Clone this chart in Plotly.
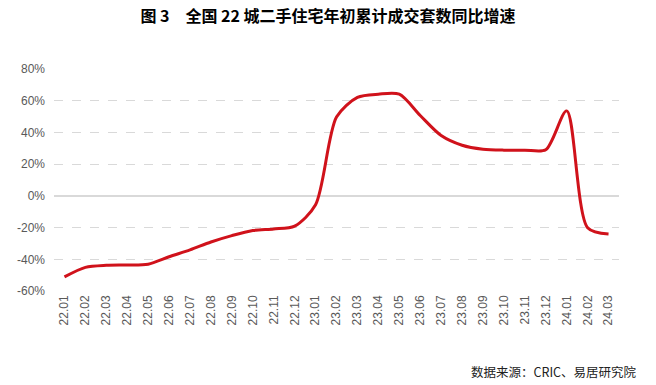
import plotly.graph_objects as go

categories = ["22.01","22.02","22.03","22.04","22.05","22.06","22.07","22.08","22.09",
              "22.10","22.11","22.12","23.01","23.02","23.03","23.04","23.05","23.06",
              "23.07","23.08","23.09","23.10","23.11","23.12","24.01","24.02","24.03"]
growth = [-51.0, -45.0, -43.7, -43.5, -43.0, -38.3, -34.0, -29.0, -25.0,
          -21.8, -20.8, -19.0, -5.6, 49.6, 62.0, 64.0, 64.0, 50.6,
          38.0, 31.9, 29.4, 28.8, 28.8, 29.0, 53.5, -20.0, -24.0]
y_ticks = [-60, -40, -20, 0, 20, 40, 60, 80]
y_tick_labels = [f"{v}%" for v in y_ticks]

fig = go.Figure()
fig.add_trace(go.Scatter(
    x=list(range(len(categories))), y=growth, mode="lines",
    line=dict(color="#D0121B", width=3, shape="spline", smoothing=0.8),
    hoverinfo="skip", showlegend=False,
))

fig.update_layout(
    width=656, height=385,
    margin=dict(l=54, r=37, t=68, b=93),
    paper_bgcolor="white", plot_bgcolor="white",
    title=dict(text="<b>图 3　全国 22 城二手住宅年初累计成交套数同比增速</b>",
               x=0.5, xanchor="center", y=0.958, yanchor="middle",
               font=dict(family="Noto Sans CJK SC", size=16, color="#000000")),
    xaxis=dict(
        tickmode="array", tickvals=list(range(len(categories))), ticktext=categories,
        range=[-0.5, len(categories) - 0.5], tickangle=-90,
        showgrid=False, zeroline=False, showline=False, ticks="",
        tickfont=dict(family="Liberation Sans", size=12, color="#595959"),
    ),
    yaxis=dict(
        tickmode="array", tickvals=y_ticks, ticktext=y_tick_labels,
        range=[-60.5, 80.5], showgrid=True, gridcolor="#D9D9D9", griddash="dash",
        gridwidth=1, zeroline=True, zerolinecolor="#D9D9D9", zerolinewidth=1.5,
        showline=False, ticks="", ticklabelstandoff=8,
        tickfont=dict(family="Liberation Sans", size=12, color="#595959"),
    ),
)

fig.add_annotation(
    text="数据来源：CRIC、易居研究院", xref="paper", yref="paper",
    x=1.036, y=-0.355, xanchor="right", yanchor="middle", showarrow=False,
    font=dict(family="Noto Sans CJK SC", size=12.5, color="#222222"),
)

fig.write_html("out.html", config={"displayModeBar": False},
               post_script="document.body.style.margin='0px';")
